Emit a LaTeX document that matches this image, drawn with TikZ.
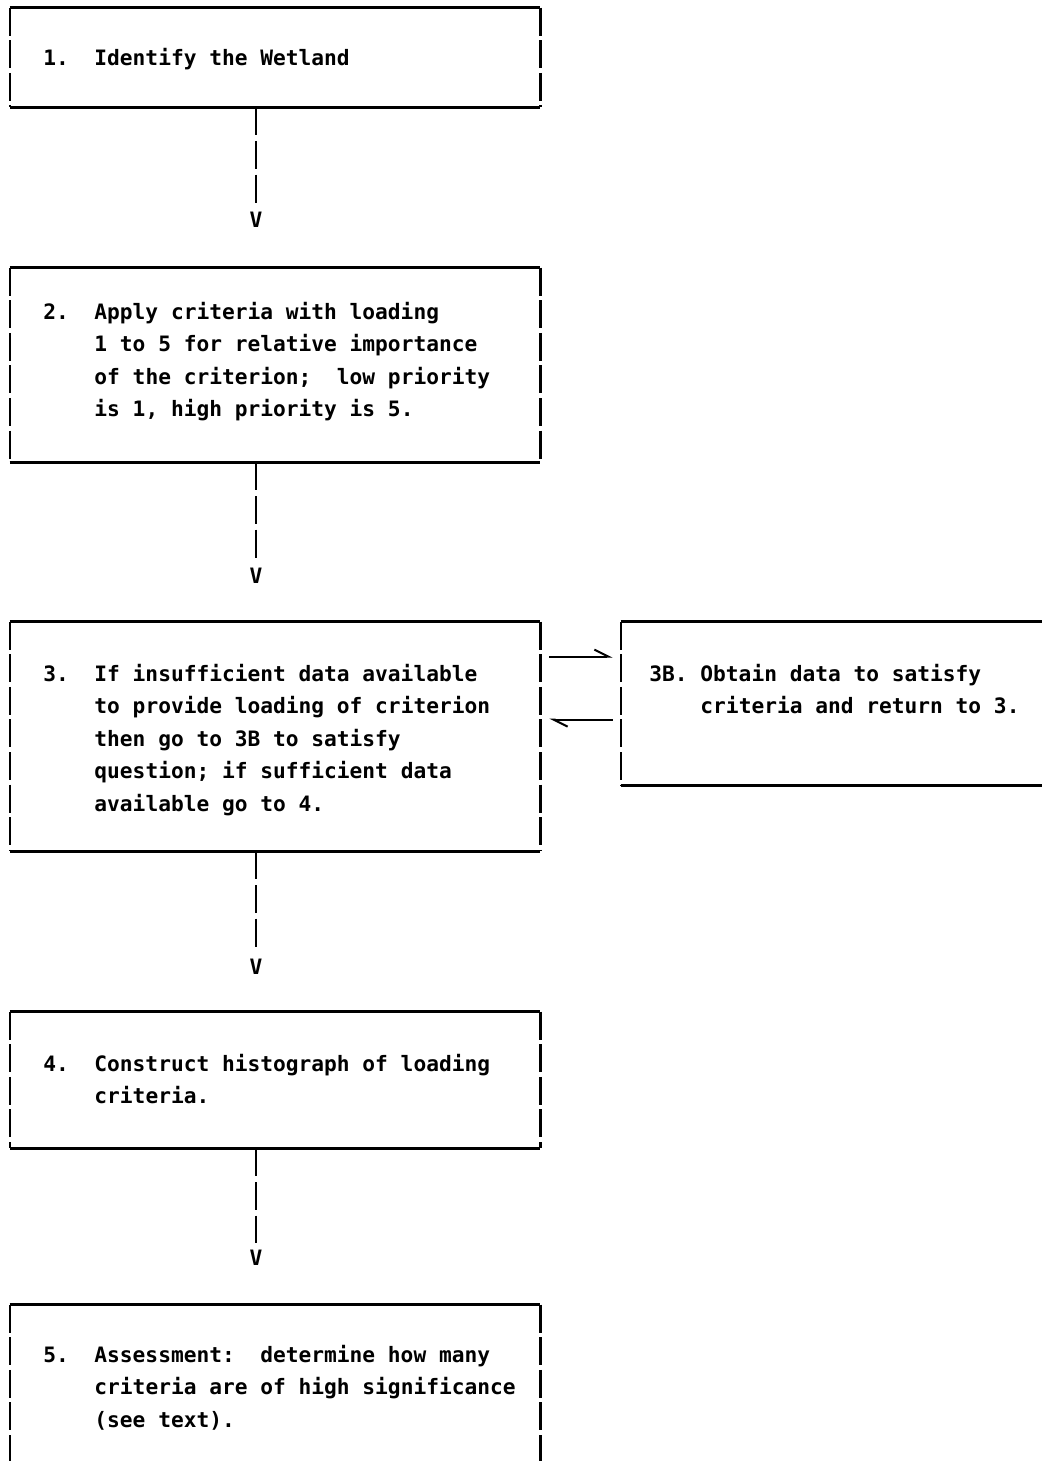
\documentclass[tikz,border=0pt]{standalone}
\usepackage{fontspec}
\setmonofont{DejaVu Sans Mono}
\usetikzlibrary{arrows.meta, positioning}

\newcommand{\ind}{\phantom{0000}}

\begin{document}
\begin{tikzpicture}[x=0.5pt, y=-0.5pt,
    box/.style={rectangle, inner sep=0pt},
    txt/.style={anchor=base west, inner sep=0pt, align=left,
      font=\ttfamily\bfseries\fontsize{10.6}{16.25}\selectfont\frenchspacing},
    vee/.style={inner sep=0pt, font=\ttfamily\bfseries\fontsize{10.6}{16.25}\selectfont},
    rule/.style={line width=1.3pt},
    bar/.style={line width=1.1pt, dash pattern=on 14pt off 2.3pt},
    link/.style={line width=1.1pt, dash pattern=on 14pt off 2.8pt},
    harp/.style={line width=1pt, -{Straight Barb[harpoon, length=7pt, width=7pt]}}]
    \useasboundingbox (0,0) rectangle (1047,1461);
    % boxes
    \node[box, minimum width=265pt, minimum height=49.5pt] (b1) at (275,57.5) {};
    \node[box, minimum width=265pt, minimum height=97pt] (b2) at (275,365) {};
    \node[box, minimum width=265pt, minimum height=114.5pt] (b3) at (275,736.5) {};
    \node[box, minimum width=210.5pt, minimum height=81.5pt] (b3b) at (831.5,703.5) {};
    \node[box, minimum width=265pt, minimum height=68pt] (b4) at (275,1080) {};
    \node[box, minimum width=265pt, minimum height=87.5pt] (b5) at (275,1392.5) {};
    \foreach \b in {b1,b2,b3,b4}{
      \draw[rule] (\b.north west) -- (\b.north east);
      \draw[rule] (\b.south west) -- (\b.south east);
      \draw[bar] (\b.north west) -- (\b.south west);
      \draw[bar] (\b.north east) -- (\b.south east);
    }
    \draw[rule] (b3b.north west) -- (b3b.north east);
    \draw[rule] (b3b.south west) -- (b3b.south east);
    \draw[bar] (b3b.north west) -- (b3b.south west);
    \draw[rule] (b5.north west) -- (b5.north east);
    \draw[bar] (b5.north west) -- (b5.south west);
    \draw[bar] (b5.north east) -- (b5.south east);
    % texts (anchored at the baseline of the last line)
    \node[txt] (t1) at (43,66) {1.\ \ Identify the Wetland};
    \node[txt] (t2) at (43,416.5) {2.\ \ Apply criteria with loading\\
      \ind 1 to 5 for relative importance\\
      \ind of the criterion;\ \ low priority\\
      \ind is 1, high priority is 5.};
    \node[txt] (t3) at (43,811) {3.\ \ If insufficient data available\\
      \ind to provide loading of criterion\\
      \ind then go to 3B to satisfy\\
      \ind question; if sufficient data\\
      \ind available go to 4.};
    \node[txt] (t3b) at (649,713.5) {3B. Obtain data to satisfy\\
      \ind criteria and return to 3.};
    \node[txt] (t4) at (43,1103.5) {4.\ \ Construct histograph of loading\\
      \ind criteria.};
    \node[txt] (t5) at (43,1427) {5.\ \ Assessment:\ \ determine how many\\
      \ind criteria are of high significance\\
      \ind (see text).};
    % connectors
    \node[vee] (v1) at (256,220) {V};
    \node[vee] (v2) at (256,576) {V};
    \node[vee] (v3) at (256,967) {V};
    \node[vee] (v4) at (256,1258) {V};
    \draw[link] (v1 |- b1.south) -- ([yshift=3.5pt]v1.north);
    \draw[link] (v2 |- b2.south) -- ([yshift=3.5pt]v2.north);
    \draw[link] (v3 |- b3.south) -- ([yshift=3.5pt]v3.north);
    \draw[link] (v4 |- b4.south) -- ([yshift=3.5pt]v4.north);
    \draw[harp] ([shift={(4.5pt,-17.5pt)}]b3.north east) -- ([shift={(-4pt,-17.5pt)}]b3b.north west);
    \draw[harp] ([shift={(-4pt,-49pt)}]b3b.north west) -- ([shift={(4.5pt,-49pt)}]b3.north east);
\end{tikzpicture}
\end{document}
